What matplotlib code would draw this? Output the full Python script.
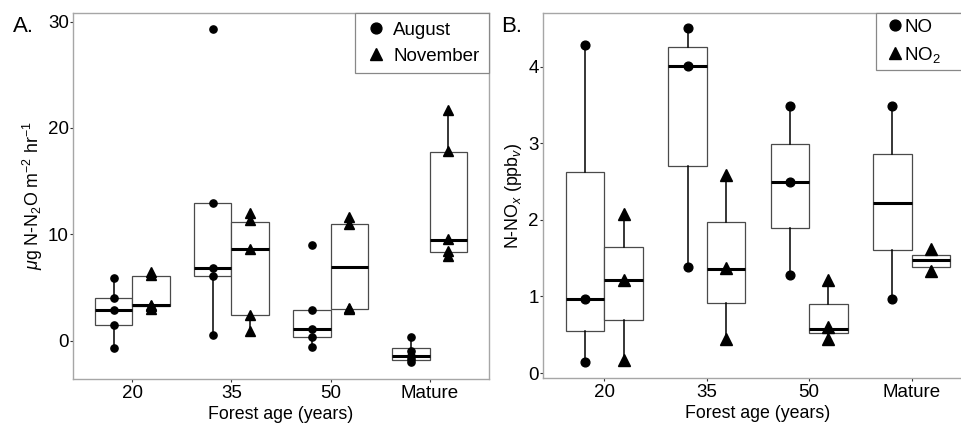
#!/usr/bin/env python3
"""Soil N2O flux and N-NOx by forest age: two box panels (August/November, NO/NO2)."""

import matplotlib
matplotlib.use("Agg")
import matplotlib.pyplot as plt
from matplotlib.lines import Line2D

matplotlib.rcParams.update({
    "font.family": ["Liberation Sans", "DejaVu Sans"],
    "mathtext.fontset": "custom",
    "mathtext.rm": "Liberation Sans",
    "mathtext.it": "Liberation Sans:italic",
    "mathtext.bf": "Liberation Sans:bold",
})

AGES = ["20", "35", "50", "Mature"]

# panel A: box stats per age (whislo, q1, med, q3, whishi)
n2o_aug_box = [
    (-0.69, 1.44, 2.91, 4.03, 5.89),
    (0.50, 6.04, 6.80, 12.93, 12.93),
    (-0.63, 0.38, 1.13, 2.91, 2.91),
    (-2.00, -1.79, -1.40, -0.70, 0.35),
]
n2o_nov_box = [
    (3.00, 3.27, 3.36, 6.10, 6.40),
    (0.88, 2.41, 8.60, 11.20, 12.00),
    (3.00, 3.00, 6.89, 10.99, 11.60),
    (7.95, 8.33, 9.49, 17.75, 21.70),
]
n2o_aug_pts = [
    [5.89, 4.05, 2.91, 1.44, -0.69],
    [29.3, 12.93, 6.80, 6.04, 0.50],
    [8.96, 2.90, 1.13, 0.38, -0.63],
    [0.35, -1.00, -1.45, -1.75, -2.00],
]
n2o_nov_pts = [
    [6.45, 6.20, 3.40, 3.25, 3.00],
    [12.00, 11.30, 8.60, 2.40, 0.90],
    [11.60, 11.00, 3.05, 2.98],
    [21.70, 17.80, 9.60, 8.40, 7.95],
]

# panel B
no_box = [
    (0.15, 0.555, 0.96, 2.62, 4.28),
    (1.39, 2.70, 4.01, 4.255, 4.50),
    (1.28, 1.89, 2.50, 2.995, 3.49),
    (0.965, 1.60, 2.226, 2.86, 3.49),
]
no2_box = [
    (0.17, 0.69, 1.21, 1.645, 2.08),
    (0.45, 0.91, 1.36, 1.975, 2.59),
    (0.46, 0.52, 0.58, 0.90, 1.225),
    (1.34, 1.39, 1.47, 1.54, 1.62),
]
no_pts = [
    [4.28, 0.96, 0.15],
    [4.50, 4.01, 1.39],
    [3.49, 2.50, 1.28],
    [3.49, 0.965],
]
no2_pts = [
    [2.08, 1.21, 0.17],
    [2.59, 1.37, 0.45],
    [1.22, 0.60, 0.45],
    [1.62, 1.33],
]

W = 0.375
FRAME = "#a6a6a6"


def stats(rows):
    return [dict(whislo=r[0], q1=r[1], med=r[2], q3=r[3], whishi=r[4], fliers=[])
            for r in rows]


def draw_panel(ax, box_a, box_b, pts_a, pts_b, ms_c, ms_t):
    pos = range(1, len(AGES) + 1)
    for boxes, off in ((box_a, -W / 2), (box_b, W / 2)):
        ax.bxp(stats(boxes), positions=[p + off for p in pos], widths=W,
               showcaps=False, showfliers=False, patch_artist=True,
               boxprops=dict(facecolor="white", edgecolor="#4a4a4a", lw=0.9),
               whiskerprops=dict(color="black", lw=1.1),
               medianprops=dict(color="black", lw=2.2),
               manage_ticks=False, zorder=2)
    for pts, off, mk, ms in ((pts_a, -W / 2, "o", ms_c), (pts_b, W / 2, "^", ms_t)):
        for p, vals in zip(pos, pts):
            ax.plot([p + off] * len(vals), vals, mk, color="black",
                    ms=ms, ls="none", zorder=3)
    ax.set_xticks(list(pos))
    ax.set_xticklabels(AGES)
    ax.set_xlim(0.4, 4.6)
    for s in ax.spines.values():
        s.set_color(FRAME)
        s.set_linewidth(1.0)
    ax.tick_params(axis="both", labelsize=13.5, length=2.5, width=0.8,
                   color="#333333")
    ax.tick_params(axis="x", pad=2)
    ax.tick_params(axis="y", pad=0.5)
    ax.set_xlabel("Forest age (years)", fontsize=12.8, labelpad=3)


def legend(ax, labels, x0, hl, htp, bp):
    handles = [
        Line2D([], [], marker="o", color="black", ls="none", ms=7.8),
        Line2D([], [], marker="^", color="black", ls="none", ms=9.0),
    ]
    leg = ax.legend(handles, labels, loc="upper left",
                    bbox_to_anchor=(x0, 0, 1 - x0, 1), mode="expand",
                    borderaxespad=0, fontsize=13.5, handlelength=hl,
                    handletextpad=htp, labelspacing=0.48, borderpad=bp,
                    fancybox=False, framealpha=1, edgecolor="#888888")
    leg.get_frame().set_linewidth(0.9)


fig = plt.figure(figsize=(9.62, 4.26), dpi=100)
ax1 = fig.add_axes([73 / 962, 47 / 426, 416 / 962, 366 / 426])
ax2 = fig.add_axes([543 / 962, 48 / 426, 430 / 962, 365 / 426])

draw_panel(ax1, n2o_aug_box, n2o_nov_box, n2o_aug_pts, n2o_nov_pts, 5.2, 6.5)
ax1.set_ylim(-3.6, 30.8)
ax1.set_yticks([0, 10, 20, 30])
ax1.set_ylabel(r"$\mathit{\mu}$g N-N$_2$O m$^{-2}$ hr$^{-1}$", fontsize=12.8, labelpad=2)
legend(ax1, ["August", "November"], (355 - 73) / 416, 1.35, 0.25, 0.45)

draw_panel(ax2, no_box, no2_box, no_pts, no2_pts, 6.3, 8.0)
ax2.set_ylim(-0.065, 4.70)
ax2.set_yticks([0, 1, 2, 3, 4])
ax2.set_ylabel(r"N-NO$_x$ (ppb$_v$)", fontsize=12.8, labelpad=3)
legend(ax2, ["NO", r"NO$_2$"], (876 - 543) / 430, 1.45, -0.25, 0.3)

fig.text(13 / 962, 1 - 32 / 426, "A.", fontsize=16, va="baseline")
fig.text(501 / 962, 1 - 32 / 426, "B.", fontsize=16, va="baseline")

fig.savefig("out.png", dpi=100)
